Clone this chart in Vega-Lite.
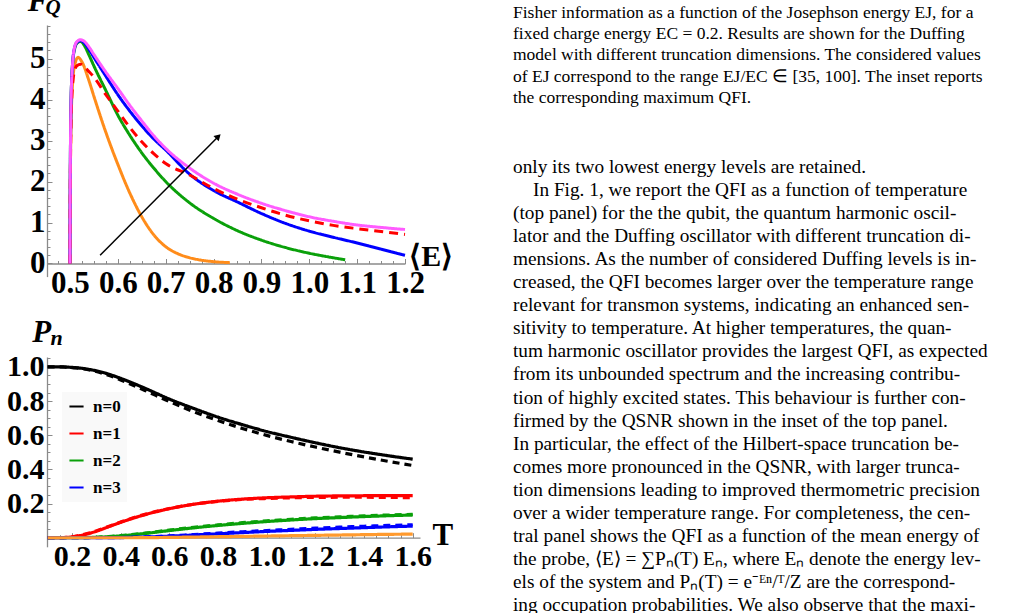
{
  "$schema": "https://vega.github.io/schema/vega-lite/v6.json",
  "width": 1012,
  "height": 613,
  "autosize": {"type": "none"},
  "padding": 0,
  "background": "white",
  "config": {
    "view": {"stroke": null},
    "axis": {
      "grid": false,
      "domainColor": "#8a8a8a",
      "domainWidth": 1.3,
      "tickColor": "#8a8a8a",
      "tickWidth": 1,
      "labelFont": "Liberation Serif",
      "labelFontWeight": "bold",
      "labelColor": "black",
      "labelOverlap": false,
      "labelBound": false,
      "labelFlush": false,
      "title": null
    }
  },
  "datasets": {
    "qfi": [
      {"E": 0.5, "F": 0, "c": "N=2"}, {"E": 0.5005, "F": 1.6, "c": "N=2"}, {"E": 0.502, "F": 3.2, "c": "N=2"}, {"E": 0.505, "F": 4.3, "c": "N=2"}, {"E": 0.51, "F": 4.85, "c": "N=2"}, {"E": 0.517, "F": 5.03, "c": "N=2"}, {"E": 0.525, "F": 4.92, "c": "N=2"}, {"E": 0.54, "F": 4.45, "c": "N=2"}, {"E": 0.55, "F": 4.08, "c": "N=2"}, {"E": 0.575, "F": 3.2, "c": "N=2"}, {"E": 0.6, "F": 2.42, "c": "N=2"}, {"E": 0.625, "F": 1.72, "c": "N=2"}, {"E": 0.65, "F": 1.14, "c": "N=2"}, {"E": 0.675, "F": 0.7, "c": "N=2"}, {"E": 0.7, "F": 0.41, "c": "N=2"}, {"E": 0.725, "F": 0.24, "c": "N=2"}, {"E": 0.75, "F": 0.14, "c": "N=2"}, {"E": 0.775, "F": 0.08, "c": "N=2"}, {"E": 0.8, "F": 0.045, "c": "N=2"}, {"E": 0.834, "F": 0.02, "c": "N=2"},
      {"E": 0.5, "F": 0, "c": "N=3"}, {"E": 0.5005, "F": 1.8, "c": "N=3"}, {"E": 0.502, "F": 3.8, "c": "N=3"}, {"E": 0.505, "F": 4.8, "c": "N=3"}, {"E": 0.51, "F": 5.25, "c": "N=3"}, {"E": 0.515, "F": 5.38, "c": "N=3"}, {"E": 0.522, "F": 5.42, "c": "N=3"}, {"E": 0.53, "F": 5.32, "c": "N=3"}, {"E": 0.54, "F": 5.08, "c": "N=3"}, {"E": 0.55, "F": 4.82, "c": "N=3"}, {"E": 0.575, "F": 4.22, "c": "N=3"}, {"E": 0.6, "F": 3.62, "c": "N=3"}, {"E": 0.625, "F": 3.13, "c": "N=3"}, {"E": 0.65, "F": 2.7, "c": "N=3"}, {"E": 0.675, "F": 2.33, "c": "N=3"}, {"E": 0.7, "F": 2.0, "c": "N=3"}, {"E": 0.75, "F": 1.48, "c": "N=3"}, {"E": 0.8, "F": 1.1, "c": "N=3"}, {"E": 0.85, "F": 0.8, "c": "N=3"}, {"E": 0.9, "F": 0.57, "c": "N=3"}, {"E": 0.95, "F": 0.39, "c": "N=3"}, {"E": 1.0, "F": 0.25, "c": "N=3"}, {"E": 1.05, "F": 0.14, "c": "N=3"}, {"E": 1.075, "F": 0.09, "c": "N=3"},
      {"E": 0.5, "F": 0, "c": "N=4"}, {"E": 0.5005, "F": 1.8, "c": "N=4"}, {"E": 0.502, "F": 3.8, "c": "N=4"}, {"E": 0.505, "F": 4.8, "c": "N=4"}, {"E": 0.51, "F": 5.28, "c": "N=4"}, {"E": 0.515, "F": 5.4, "c": "N=4"}, {"E": 0.522, "F": 5.44, "c": "N=4"}, {"E": 0.53, "F": 5.38, "c": "N=4"}, {"E": 0.54, "F": 5.22, "c": "N=4"}, {"E": 0.55, "F": 5.03, "c": "N=4"}, {"E": 0.575, "F": 4.57, "c": "N=4"}, {"E": 0.6, "F": 4.12, "c": "N=4"}, {"E": 0.625, "F": 3.72, "c": "N=4"}, {"E": 0.65, "F": 3.36, "c": "N=4"}, {"E": 0.675, "F": 3.04, "c": "N=4"}, {"E": 0.7, "F": 2.77, "c": "N=4"}, {"E": 0.75, "F": 2.18, "c": "N=4"}, {"E": 0.8, "F": 1.78, "c": "N=4"}, {"E": 0.85, "F": 1.5, "c": "N=4"}, {"E": 0.9, "F": 1.22, "c": "N=4"}, {"E": 0.95, "F": 0.98, "c": "N=4"}, {"E": 1.0, "F": 0.79, "c": "N=4"}, {"E": 1.05, "F": 0.64, "c": "N=4"}, {"E": 1.1, "F": 0.5, "c": "N=4"}, {"E": 1.15, "F": 0.35, "c": "N=4"}, {"E": 1.2, "F": 0.2, "c": "N=4"},
      {"E": 0.5, "F": 0, "c": "QHO"}, {"E": 0.5005, "F": 1.5, "c": "QHO"}, {"E": 0.502, "F": 3.3, "c": "QHO"}, {"E": 0.505, "F": 4.3, "c": "QHO"}, {"E": 0.51, "F": 4.72, "c": "QHO"}, {"E": 0.515, "F": 4.83, "c": "QHO"}, {"E": 0.522, "F": 4.86, "c": "QHO"}, {"E": 0.53, "F": 4.8, "c": "QHO"}, {"E": 0.54, "F": 4.68, "c": "QHO"}, {"E": 0.55, "F": 4.55, "c": "QHO"}, {"E": 0.575, "F": 4.12, "c": "QHO"}, {"E": 0.6, "F": 3.72, "c": "QHO"}, {"E": 0.625, "F": 3.32, "c": "QHO"}, {"E": 0.65, "F": 2.97, "c": "QHO"}, {"E": 0.675, "F": 2.68, "c": "QHO"}, {"E": 0.7, "F": 2.44, "c": "QHO"}, {"E": 0.75, "F": 2.16, "c": "QHO"}, {"E": 0.8, "F": 1.83, "c": "QHO"}, {"E": 0.85, "F": 1.57, "c": "QHO"}, {"E": 0.9, "F": 1.36, "c": "QHO"}, {"E": 0.95, "F": 1.18, "c": "QHO"}, {"E": 1.0, "F": 1.04, "c": "QHO"}, {"E": 1.05, "F": 0.93, "c": "QHO"}, {"E": 1.1, "F": 0.85, "c": "QHO"}, {"E": 1.15, "F": 0.78, "c": "QHO"}, {"E": 1.2, "F": 0.71, "c": "QHO"},
      {"E": 0.5, "F": 0, "c": "N=5"}, {"E": 0.5005, "F": 1.8, "c": "N=5"}, {"E": 0.502, "F": 3.8, "c": "N=5"}, {"E": 0.505, "F": 4.8, "c": "N=5"}, {"E": 0.51, "F": 5.3, "c": "N=5"}, {"E": 0.515, "F": 5.42, "c": "N=5"}, {"E": 0.522, "F": 5.46, "c": "N=5"}, {"E": 0.53, "F": 5.42, "c": "N=5"}, {"E": 0.54, "F": 5.28, "c": "N=5"}, {"E": 0.55, "F": 5.1, "c": "N=5"}, {"E": 0.575, "F": 4.67, "c": "N=5"}, {"E": 0.6, "F": 4.27, "c": "N=5"}, {"E": 0.625, "F": 3.86, "c": "N=5"}, {"E": 0.65, "F": 3.48, "c": "N=5"}, {"E": 0.675, "F": 3.12, "c": "N=5"}, {"E": 0.7, "F": 2.81, "c": "N=5"}, {"E": 0.75, "F": 2.33, "c": "N=5"}, {"E": 0.8, "F": 1.96, "c": "N=5"}, {"E": 0.85, "F": 1.69, "c": "N=5"}, {"E": 0.9, "F": 1.47, "c": "N=5"}, {"E": 0.95, "F": 1.29, "c": "N=5"}, {"E": 1.0, "F": 1.14, "c": "N=5"}, {"E": 1.05, "F": 1.03, "c": "N=5"}, {"E": 1.1, "F": 0.94, "c": "N=5"}, {"E": 1.15, "F": 0.88, "c": "N=5"}, {"E": 1.2, "F": 0.83, "c": "N=5"}
    ],
    "arrow": [{"E": 0.563, "F": 0.2, "E2": 0.81, "F2": 3.1}],
    "toplabels": [
      {"E": 0.412, "F": 6.16, "t": "F", "k": "main"},
      {"E": 0.449, "F": 6.09, "t": "Q", "k": "sub"},
      {"E": 1.209, "F": 0.16, "t": "⟨E⟩", "k": "axis"}
    ],
    "pop": [
      {"T": 0.1, "P": 1.0, "n": "n=0", "k": "exact"}, {"T": 0.15, "P": 1.0, "n": "n=0", "k": "exact"}, {"T": 0.2, "P": 0.997, "n": "n=0", "k": "exact"}, {"T": 0.25, "P": 0.99, "n": "n=0", "k": "exact"}, {"T": 0.3, "P": 0.977, "n": "n=0", "k": "exact"}, {"T": 0.35, "P": 0.958, "n": "n=0", "k": "exact"}, {"T": 0.4, "P": 0.933, "n": "n=0", "k": "exact"}, {"T": 0.5, "P": 0.875, "n": "n=0", "k": "exact"}, {"T": 0.6, "P": 0.812, "n": "n=0", "k": "exact"}, {"T": 0.7, "P": 0.757, "n": "n=0", "k": "exact"}, {"T": 0.8, "P": 0.706, "n": "n=0", "k": "exact"}, {"T": 0.9, "P": 0.662, "n": "n=0", "k": "exact"}, {"T": 1.0, "P": 0.622, "n": "n=0", "k": "exact"}, {"T": 1.1, "P": 0.588, "n": "n=0", "k": "exact"}, {"T": 1.2, "P": 0.556, "n": "n=0", "k": "exact"}, {"T": 1.3, "P": 0.527, "n": "n=0", "k": "exact"}, {"T": 1.4, "P": 0.502, "n": "n=0", "k": "exact"}, {"T": 1.5, "P": 0.48, "n": "n=0", "k": "exact"}, {"T": 1.6, "P": 0.46, "n": "n=0", "k": "exact"},
      {"T": 0.1, "P": 1.0, "n": "n=0", "k": "approx"}, {"T": 0.15, "P": 1.0, "n": "n=0", "k": "approx"}, {"T": 0.2, "P": 0.996, "n": "n=0", "k": "approx"}, {"T": 0.25, "P": 0.988, "n": "n=0", "k": "approx"}, {"T": 0.3, "P": 0.973, "n": "n=0", "k": "approx"}, {"T": 0.35, "P": 0.951, "n": "n=0", "k": "approx"}, {"T": 0.4, "P": 0.924, "n": "n=0", "k": "approx"}, {"T": 0.5, "P": 0.862, "n": "n=0", "k": "approx"}, {"T": 0.6, "P": 0.797, "n": "n=0", "k": "approx"}, {"T": 0.7, "P": 0.738, "n": "n=0", "k": "approx"}, {"T": 0.8, "P": 0.686, "n": "n=0", "k": "approx"}, {"T": 0.9, "P": 0.64, "n": "n=0", "k": "approx"}, {"T": 1.0, "P": 0.599, "n": "n=0", "k": "approx"}, {"T": 1.1, "P": 0.563, "n": "n=0", "k": "approx"}, {"T": 1.2, "P": 0.531, "n": "n=0", "k": "approx"}, {"T": 1.3, "P": 0.501, "n": "n=0", "k": "approx"}, {"T": 1.4, "P": 0.473, "n": "n=0", "k": "approx"}, {"T": 1.5, "P": 0.447, "n": "n=0", "k": "approx"}, {"T": 1.6, "P": 0.423, "n": "n=0", "k": "approx"},
      {"T": 0.1, "P": 0, "n": "n=1", "k": "exact"}, {"T": 0.15, "P": 0.0005, "n": "n=1", "k": "exact"}, {"T": 0.2, "P": 0.005, "n": "n=1", "k": "exact"}, {"T": 0.25, "P": 0.018, "n": "n=1", "k": "exact"}, {"T": 0.3, "P": 0.038, "n": "n=1", "k": "exact"}, {"T": 0.35, "P": 0.064, "n": "n=1", "k": "exact"}, {"T": 0.4, "P": 0.09, "n": "n=1", "k": "exact"}, {"T": 0.5, "P": 0.135, "n": "n=1", "k": "exact"}, {"T": 0.6, "P": 0.17, "n": "n=1", "k": "exact"}, {"T": 0.7, "P": 0.196, "n": "n=1", "k": "exact"}, {"T": 0.8, "P": 0.214, "n": "n=1", "k": "exact"}, {"T": 0.9, "P": 0.226, "n": "n=1", "k": "exact"}, {"T": 1.0, "P": 0.234, "n": "n=1", "k": "exact"}, {"T": 1.1, "P": 0.239, "n": "n=1", "k": "exact"}, {"T": 1.2, "P": 0.243, "n": "n=1", "k": "exact"}, {"T": 1.3, "P": 0.245, "n": "n=1", "k": "exact"}, {"T": 1.4, "P": 0.246, "n": "n=1", "k": "exact"}, {"T": 1.5, "P": 0.247, "n": "n=1", "k": "exact"}, {"T": 1.6, "P": 0.247, "n": "n=1", "k": "exact"},
      {"T": 0.1, "P": 0, "n": "n=1", "k": "approx"}, {"T": 0.15, "P": 0.0006, "n": "n=1", "k": "approx"}, {"T": 0.2, "P": 0.006, "n": "n=1", "k": "approx"}, {"T": 0.25, "P": 0.02, "n": "n=1", "k": "approx"}, {"T": 0.3, "P": 0.04, "n": "n=1", "k": "approx"}, {"T": 0.35, "P": 0.066, "n": "n=1", "k": "approx"}, {"T": 0.4, "P": 0.092, "n": "n=1", "k": "approx"}, {"T": 0.5, "P": 0.137, "n": "n=1", "k": "approx"}, {"T": 0.6, "P": 0.171, "n": "n=1", "k": "approx"}, {"T": 0.7, "P": 0.196, "n": "n=1", "k": "approx"}, {"T": 0.8, "P": 0.213, "n": "n=1", "k": "approx"}, {"T": 0.9, "P": 0.224, "n": "n=1", "k": "approx"}, {"T": 1.0, "P": 0.23, "n": "n=1", "k": "approx"}, {"T": 1.1, "P": 0.234, "n": "n=1", "k": "approx"}, {"T": 1.2, "P": 0.236, "n": "n=1", "k": "approx"}, {"T": 1.3, "P": 0.237, "n": "n=1", "k": "approx"}, {"T": 1.4, "P": 0.237, "n": "n=1", "k": "approx"}, {"T": 1.5, "P": 0.236, "n": "n=1", "k": "approx"}, {"T": 1.6, "P": 0.235, "n": "n=1", "k": "approx"},
      {"T": 0.1, "P": 0, "n": "n=2", "k": "exact"}, {"T": 0.15, "P": 0, "n": "n=2", "k": "exact"}, {"T": 0.2, "P": 0, "n": "n=2", "k": "exact"}, {"T": 0.25, "P": 0.0008, "n": "n=2", "k": "exact"}, {"T": 0.3, "P": 0.0025, "n": "n=2", "k": "exact"}, {"T": 0.35, "P": 0.006, "n": "n=2", "k": "exact"}, {"T": 0.4, "P": 0.011, "n": "n=2", "k": "exact"}, {"T": 0.5, "P": 0.025, "n": "n=2", "k": "exact"}, {"T": 0.6, "P": 0.042, "n": "n=2", "k": "exact"}, {"T": 0.7, "P": 0.058, "n": "n=2", "k": "exact"}, {"T": 0.8, "P": 0.072, "n": "n=2", "k": "exact"}, {"T": 0.9, "P": 0.084, "n": "n=2", "k": "exact"}, {"T": 1.0, "P": 0.095, "n": "n=2", "k": "exact"}, {"T": 1.1, "P": 0.104, "n": "n=2", "k": "exact"}, {"T": 1.2, "P": 0.112, "n": "n=2", "k": "exact"}, {"T": 1.3, "P": 0.118, "n": "n=2", "k": "exact"}, {"T": 1.4, "P": 0.124, "n": "n=2", "k": "exact"}, {"T": 1.5, "P": 0.129, "n": "n=2", "k": "exact"}, {"T": 1.6, "P": 0.133, "n": "n=2", "k": "exact"},
      {"T": 0.1, "P": 0, "n": "n=2", "k": "approx"}, {"T": 0.15, "P": 0, "n": "n=2", "k": "approx"}, {"T": 0.2, "P": 0, "n": "n=2", "k": "approx"}, {"T": 0.25, "P": 0.001, "n": "n=2", "k": "approx"}, {"T": 0.3, "P": 0.003, "n": "n=2", "k": "approx"}, {"T": 0.35, "P": 0.007, "n": "n=2", "k": "approx"}, {"T": 0.4, "P": 0.012, "n": "n=2", "k": "approx"}, {"T": 0.5, "P": 0.027, "n": "n=2", "k": "approx"}, {"T": 0.6, "P": 0.045, "n": "n=2", "k": "approx"}, {"T": 0.7, "P": 0.061, "n": "n=2", "k": "approx"}, {"T": 0.8, "P": 0.075, "n": "n=2", "k": "approx"}, {"T": 0.9, "P": 0.088, "n": "n=2", "k": "approx"}, {"T": 1.0, "P": 0.099, "n": "n=2", "k": "approx"}, {"T": 1.1, "P": 0.108, "n": "n=2", "k": "approx"}, {"T": 1.2, "P": 0.116, "n": "n=2", "k": "approx"}, {"T": 1.3, "P": 0.122, "n": "n=2", "k": "approx"}, {"T": 1.4, "P": 0.128, "n": "n=2", "k": "approx"}, {"T": 1.5, "P": 0.133, "n": "n=2", "k": "approx"}, {"T": 1.6, "P": 0.137, "n": "n=2", "k": "approx"},
      {"T": 0.1, "P": 0, "n": "n=3", "k": "exact"}, {"T": 0.15, "P": 0, "n": "n=3", "k": "exact"}, {"T": 0.2, "P": 0, "n": "n=3", "k": "exact"}, {"T": 0.25, "P": 0, "n": "n=3", "k": "exact"}, {"T": 0.3, "P": 0, "n": "n=3", "k": "exact"}, {"T": 0.35, "P": 0.0003, "n": "n=3", "k": "exact"}, {"T": 0.4, "P": 0.001, "n": "n=3", "k": "exact"}, {"T": 0.5, "P": 0.004, "n": "n=3", "k": "exact"}, {"T": 0.6, "P": 0.009, "n": "n=3", "k": "exact"}, {"T": 0.7, "P": 0.016, "n": "n=3", "k": "exact"}, {"T": 0.8, "P": 0.023, "n": "n=3", "k": "exact"}, {"T": 0.9, "P": 0.03, "n": "n=3", "k": "exact"}, {"T": 1.0, "P": 0.037, "n": "n=3", "k": "exact"}, {"T": 1.1, "P": 0.043, "n": "n=3", "k": "exact"}, {"T": 1.2, "P": 0.049, "n": "n=3", "k": "exact"}, {"T": 1.3, "P": 0.054, "n": "n=3", "k": "exact"}, {"T": 1.4, "P": 0.059, "n": "n=3", "k": "exact"}, {"T": 1.5, "P": 0.064, "n": "n=3", "k": "exact"}, {"T": 1.6, "P": 0.068, "n": "n=3", "k": "exact"},
      {"T": 0.1, "P": 0, "n": "n=3", "k": "approx"}, {"T": 0.15, "P": 0, "n": "n=3", "k": "approx"}, {"T": 0.2, "P": 0, "n": "n=3", "k": "approx"}, {"T": 0.25, "P": 0, "n": "n=3", "k": "approx"}, {"T": 0.3, "P": 0, "n": "n=3", "k": "approx"}, {"T": 0.35, "P": 0.0004, "n": "n=3", "k": "approx"}, {"T": 0.4, "P": 0.0013, "n": "n=3", "k": "approx"}, {"T": 0.5, "P": 0.005, "n": "n=3", "k": "approx"}, {"T": 0.6, "P": 0.011, "n": "n=3", "k": "approx"}, {"T": 0.7, "P": 0.019, "n": "n=3", "k": "approx"}, {"T": 0.8, "P": 0.027, "n": "n=3", "k": "approx"}, {"T": 0.9, "P": 0.035, "n": "n=3", "k": "approx"}, {"T": 1.0, "P": 0.042, "n": "n=3", "k": "approx"}, {"T": 1.1, "P": 0.049, "n": "n=3", "k": "approx"}, {"T": 1.2, "P": 0.056, "n": "n=3", "k": "approx"}, {"T": 1.3, "P": 0.062, "n": "n=3", "k": "approx"}, {"T": 1.4, "P": 0.067, "n": "n=3", "k": "approx"}, {"T": 1.5, "P": 0.072, "n": "n=3", "k": "approx"}, {"T": 1.6, "P": 0.076, "n": "n=3", "k": "approx"},
      {"T": 0.1, "P": 0, "n": "n=4", "k": "exact"}, {"T": 0.4, "P": 0, "n": "n=4", "k": "exact"}, {"T": 0.5, "P": 0.0005, "n": "n=4", "k": "exact"}, {"T": 0.6, "P": 0.002, "n": "n=4", "k": "exact"}, {"T": 0.7, "P": 0.004, "n": "n=4", "k": "exact"}, {"T": 0.8, "P": 0.006, "n": "n=4", "k": "exact"}, {"T": 0.9, "P": 0.008, "n": "n=4", "k": "exact"}, {"T": 1.0, "P": 0.01, "n": "n=4", "k": "exact"}, {"T": 1.1, "P": 0.012, "n": "n=4", "k": "exact"}, {"T": 1.2, "P": 0.014, "n": "n=4", "k": "exact"}, {"T": 1.3, "P": 0.016, "n": "n=4", "k": "exact"}, {"T": 1.4, "P": 0.018, "n": "n=4", "k": "exact"}, {"T": 1.5, "P": 0.02, "n": "n=4", "k": "exact"}, {"T": 1.6, "P": 0.021, "n": "n=4", "k": "exact"}
    ],
    "botlabels": [
      {"T": 0.037, "P": 1.146, "t": "P", "k": "main"},
      {"T": 0.112, "P": 1.128, "t": "n", "k": "sub"},
      {"T": 1.681, "P": -0.043, "t": "T", "k": "axis"}
    ],
    "caption": [
      {"line": 0, "text": "Fisher information as a function of the Josephson energy EJ, for a"},
      {"line": 1, "text": "fixed charge energy EC = 0.2.  Results are shown for the Duffing"},
      {"line": 2, "text": "model with different truncation dimensions. The considered values"},
      {"line": 3, "text": "of EJ correspond to the range EJ/EC ∈ [35, 100].  The inset reports"},
      {"line": 4, "text": "the corresponding maximum QFI."}
    ],
    "body": [
      {"line": 0, "text": "only its two lowest energy levels are retained."},
      {"line": 1, "text": "In Fig.  1, we report the QFI as a function of temperature"},
      {"line": 2, "text": "(top panel) for the the qubit, the quantum harmonic oscil-"},
      {"line": 3, "text": "lator and the Duffing oscillator with different truncation di-"},
      {"line": 4, "text": "mensions.  As the number of considered Duffing levels is in-"},
      {"line": 5, "text": "creased, the QFI becomes larger over the temperature range"},
      {"line": 6, "text": "relevant for transmon systems, indicating an enhanced sen-"},
      {"line": 7, "text": "sitivity to temperature.  At higher temperatures, the quan-"},
      {"line": 8, "text": "tum harmonic oscillator provides the largest QFI, as expected"},
      {"line": 9, "text": "from its unbounded spectrum and the increasing contribu-"},
      {"line": 10, "text": "tion of highly excited states.  This behaviour is further con-"},
      {"line": 11, "text": "firmed by the QSNR shown in the inset of the top panel."},
      {"line": 12, "text": "In particular, the effect of the Hilbert-space truncation be-"},
      {"line": 13, "text": "comes more pronounced in the QSNR, with larger trunca-"},
      {"line": 14, "text": "tion dimensions leading to improved thermometric precision"},
      {"line": 15, "text": "over a wider temperature range.  For completeness, the cen-"},
      {"line": 16, "text": "tral panel shows the QFI as a function of the mean energy of"},
      {"line": 17, "text": "the probe, ⟨E⟩ = ∑Pₙ(T) Eₙ, where Eₙ denote the energy lev-"},
      {"line": 18, "text": "els of the system and Pₙ(T) = e⁻ᴱⁿ/ᵀ/Z are the correspond-"},
      {"line": 19, "text": "ing occupation probabilities.  We also observe that the maxi-"}
    ]
  },
  "layer": [
    {
      "resolve": {"axis": {"x": "independent", "y": "independent"}},
      "layer": [
        {
          "data": {"name": "qfi"},
          "mark": {"type": "line", "strokeWidth": 3, "interpolate": "monotone"},
          "encoding": {
            "x": {
              "field": "E", "type": "quantitative",
              "scale": {"domain": [0.452, 1.2], "range": [47, 405], "nice": false, "zero": false},
              "axis": {
                "orient": "bottom", "offset": -349.5, "title": null, "labelOverlap": false,
                "values": [0.5, 0.6, 0.7, 0.8, 0.9, 1.0, 1.1, 1.2], "format": ".1f",
                "labelFontSize": 31, "labelPadding": 10, "labelBaseline": "top", "tickSize": -5
              }
            },
            "y": {
              "field": "F", "type": "quantitative",
              "scale": {"domain": [-0.32, 5.82], "range": [276.6, 25], "nice": false, "zero": false},
              "axis": {
                "orient": "left", "offset": -47, "title": null, "labelOverlap": false,
                "values": [0, 1, 2, 3, 4, 5], "format": "d",
                "labelFontSize": 31, "labelPadding": 7, "tickSize": -5
              }
            },
            "color": {
              "field": "c", "type": "nominal", "legend": null,
              "scale": {"domain": ["N=2", "N=3", "N=4", "QHO", "N=5"], "range": ["#FF8C1A", "#0AA00A", "#0000FF", "#FF0000", "#FF5CFF"]}
            },
            "strokeDash": {
              "field": "c", "type": "nominal", "legend": null,
              "scale": {"domain": ["N=2", "N=3", "N=4", "QHO", "N=5"], "range": [[1, 0], [1, 0], [1, 0], [9, 6], [1, 0]]}
            }
          }
        },
        {
          "data": {"name": "arrow"},
          "mark": {"type": "rule", "color": "black", "strokeWidth": 1.5},
          "encoding": {
            "x": {
              "field": "E", "type": "quantitative",
              "axis": {
                "orient": "bottom", "offset": -349.5, "title": null, "labels": false, "domain": false, "tickSize": -3,
                "values": [0.475, 0.525, 0.55, 0.575, 0.625, 0.65, 0.675, 0.725, 0.75, 0.775, 0.825, 0.85, 0.875, 0.925, 0.95, 0.975, 1.025, 1.05, 1.075, 1.125, 1.15, 1.175]
              }
            },
            "y": {
              "field": "F", "type": "quantitative",
              "axis": {
                "orient": "left", "offset": -47, "title": null, "labels": false, "domain": false, "tickSize": -3,
                "values": [0.2, 0.4, 0.6, 0.8, 1.2, 1.4, 1.6, 1.8, 2.2, 2.4, 2.6, 2.8, 3.2, 3.4, 3.6, 3.8, 4.2, 4.4, 4.6, 4.8, 5.2, 5.4, 5.6, 5.8]
              }
            },
            "x2": {"field": "E2"},
            "y2": {"field": "F2"}
          }
        },
        {
          "data": {"name": "arrow"},
          "mark": {"type": "point", "shape": "triangle-up", "filled": true, "color": "black", "size": 55, "angle": 45, "opacity": 1},
          "encoding": {
            "x": {"field": "E2", "type": "quantitative", "axis": null},
            "y": {"field": "F2", "type": "quantitative", "axis": null}
          }
        },
        {
          "data": {"name": "toplabels"},
          "transform": [{"filter": "datum.k == 'main'"}],
          "mark": {"type": "text", "font": "Liberation Serif", "fontWeight": "bold", "fontStyle": "italic", "fontSize": 31, "align": "left", "baseline": "alphabetic", "color": "black"},
          "encoding": {
            "x": {"field": "E", "type": "quantitative", "axis": null},
            "y": {"field": "F", "type": "quantitative", "axis": null},
            "text": {"field": "t"}
          }
        },
        {
          "data": {"name": "toplabels"},
          "transform": [{"filter": "datum.k == 'sub'"}],
          "mark": {"type": "text", "font": "Liberation Serif", "fontWeight": "bold", "fontStyle": "italic", "fontSize": 21, "align": "left", "baseline": "alphabetic", "color": "black"},
          "encoding": {
            "x": {"field": "E", "type": "quantitative", "axis": null},
            "y": {"field": "F", "type": "quantitative", "axis": null},
            "text": {"field": "t"}
          }
        },
        {
          "data": {"name": "toplabels"},
          "transform": [{"filter": "datum.k == 'axis'"}],
          "mark": {"type": "text", "font": "Liberation Serif", "fontWeight": "bold", "fontSize": 30, "align": "left", "baseline": "middle", "color": "black"},
          "encoding": {
            "x": {"field": "E", "type": "quantitative", "axis": null},
            "y": {"field": "F", "type": "quantitative", "axis": null},
            "text": {"field": "t"}
          }
        }
      ]
    },
    {
      "resolve": {"axis": {"x": "independent", "y": "independent"}},
      "layer": [
        {
          "data": {"name": "pop"},
          "mark": {"type": "line", "strokeWidth": 3.2, "interpolate": "monotone"},
          "encoding": {
            "x": {
              "field": "T", "type": "quantitative",
              "scale": {"domain": [0.0975, 1.63], "range": [47, 420], "nice": false, "zero": false},
              "axis": {
                "orient": "bottom", "offset": -75.3, "title": null, "labelOverlap": false,
                "values": [0.2, 0.4, 0.6, 0.8, 1.0, 1.2, 1.4, 1.6], "format": ".1f",
                "labelFontSize": 30, "labelPadding": 9, "labelBaseline": "top", "tickSize": -5
              }
            },
            "y": {
              "field": "P", "type": "quantitative",
              "scale": {"domain": [-0.053, 1.058], "range": [546.8, 357], "nice": false, "zero": false},
              "axis": {
                "orient": "left", "offset": -47, "title": null, "labelOverlap": false,
                "values": [0.2, 0.4, 0.6, 0.8, 1.0], "format": ".1f",
                "labelFontSize": 30, "labelPadding": 8, "tickSize": -5
              }
            },
            "color": {
              "field": "n", "type": "nominal",
              "scale": {"domain": ["n=0", "n=1", "n=2", "n=3", "n=4"], "range": ["#000000", "#FF0000", "#0AA00A", "#0000FF", "#FF9A2E"]},
              "legend": {
                "orient": "none", "legendX": 62, "legendY": 392, "title": null,
                "values": ["n=0", "n=1", "n=2", "n=3"],
                "symbolType": "stroke", "symbolSize": 200, "symbolStrokeWidth": 2,
                "labelFont": "Liberation Serif", "labelFontWeight": "bold", "labelFontSize": 17, "labelColor": "black",
                "labelOffset": 8, "rowPadding": 9, "padding": 6,
                "fillColor": "#f9f9f9"
              }
            },
            "strokeDash": {
              "field": "k", "type": "nominal", "legend": null,
              "scale": {"domain": ["exact", "approx"], "range": [[1, 0], [7, 5]]}
            }
          }
        },
        {
          "data": {"name": "botlabels"},
          "transform": [{"filter": "datum.k == 'main'"}],
          "mark": {"type": "text", "font": "Liberation Serif", "fontWeight": "bold", "fontStyle": "italic", "fontSize": 31, "align": "left", "baseline": "alphabetic", "color": "black"},
          "encoding": {
            "x": {
              "field": "T", "type": "quantitative",
              "axis": {
                "orient": "bottom", "offset": -75.3, "title": null, "labels": false, "domain": false, "tickSize": -3,
                "values": [0.15, 0.25, 0.3, 0.35, 0.45, 0.5, 0.55, 0.65, 0.7, 0.75, 0.85, 0.9, 0.95, 1.05, 1.1, 1.15, 1.25, 1.3, 1.35, 1.45, 1.5, 1.55]
              }
            },
            "y": {
              "field": "P", "type": "quantitative",
              "axis": {
                "orient": "left", "offset": -47, "title": null, "labels": false, "domain": false, "tickSize": -3,
                "values": [0.05, 0.1, 0.15, 0.25, 0.3, 0.35, 0.45, 0.5, 0.55, 0.65, 0.7, 0.75, 0.85, 0.9, 0.95, 1.05]
              }
            },
            "text": {"field": "t"}
          }
        },
        {
          "data": {"name": "botlabels"},
          "transform": [{"filter": "datum.k == 'sub'"}],
          "mark": {"type": "text", "font": "Liberation Serif", "fontWeight": "bold", "fontStyle": "italic", "fontSize": 22, "align": "left", "baseline": "alphabetic", "color": "black"},
          "encoding": {
            "x": {"field": "T", "type": "quantitative", "axis": null},
            "y": {"field": "P", "type": "quantitative", "axis": null},
            "text": {"field": "t"}
          }
        },
        {
          "data": {"name": "botlabels"},
          "transform": [{"filter": "datum.k == 'axis'"}],
          "mark": {"type": "text", "font": "Liberation Serif", "fontWeight": "bold", "fontSize": 31, "align": "left", "baseline": "alphabetic", "color": "black"},
          "encoding": {
            "x": {"field": "T", "type": "quantitative", "axis": null},
            "y": {"field": "P", "type": "quantitative", "axis": null},
            "text": {"field": "t"}
          }
        }
      ]
    },
    {
      "data": {"name": "caption"},
      "mark": {"type": "text", "font": "Liberation Serif", "fontSize": 17.5, "align": "left", "baseline": "middle", "color": "black"},
      "encoding": {
        "x": {"datum": 0, "type": "quantitative", "scale": {"domain": [0, 1], "range": [513, 1000]}, "axis": null},
        "y": {"field": "line", "type": "quantitative", "scale": {"domain": [0, 4], "range": [12.5, 98]}, "axis": null},
        "text": {"field": "text"}
      }
    },
    {
      "data": {"name": "body"},
      "transform": [{"filter": "datum.line != 1"}],
      "mark": {"type": "text", "font": "Liberation Serif", "fontSize": 19.3, "align": "left", "baseline": "middle", "color": "black"},
      "encoding": {
        "x": {"datum": 0, "type": "quantitative", "scale": {"domain": [0, 1], "range": [513, 1000]}, "axis": null},
        "y": {"field": "line", "type": "quantitative", "scale": {"domain": [0, 19], "range": [166.5, 605.4]}, "axis": null},
        "text": {"field": "text"}
      }
    },
    {
      "data": {"name": "body"},
      "transform": [{"filter": "datum.line == 1"}],
      "mark": {"type": "text", "font": "Liberation Serif", "fontSize": 19.3, "align": "left", "baseline": "middle", "color": "black", "dx": 20},
      "encoding": {
        "x": {"datum": 0, "type": "quantitative", "scale": {"domain": [0, 1], "range": [513, 1000]}, "axis": null},
        "y": {"field": "line", "type": "quantitative", "scale": {"domain": [0, 19], "range": [166.5, 605.4]}, "axis": null},
        "text": {"field": "text"}
      }
    }
  ],
  "resolve": {"scale": {"x": "independent", "y": "independent", "color": "independent", "strokeDash": "independent"}}
}
